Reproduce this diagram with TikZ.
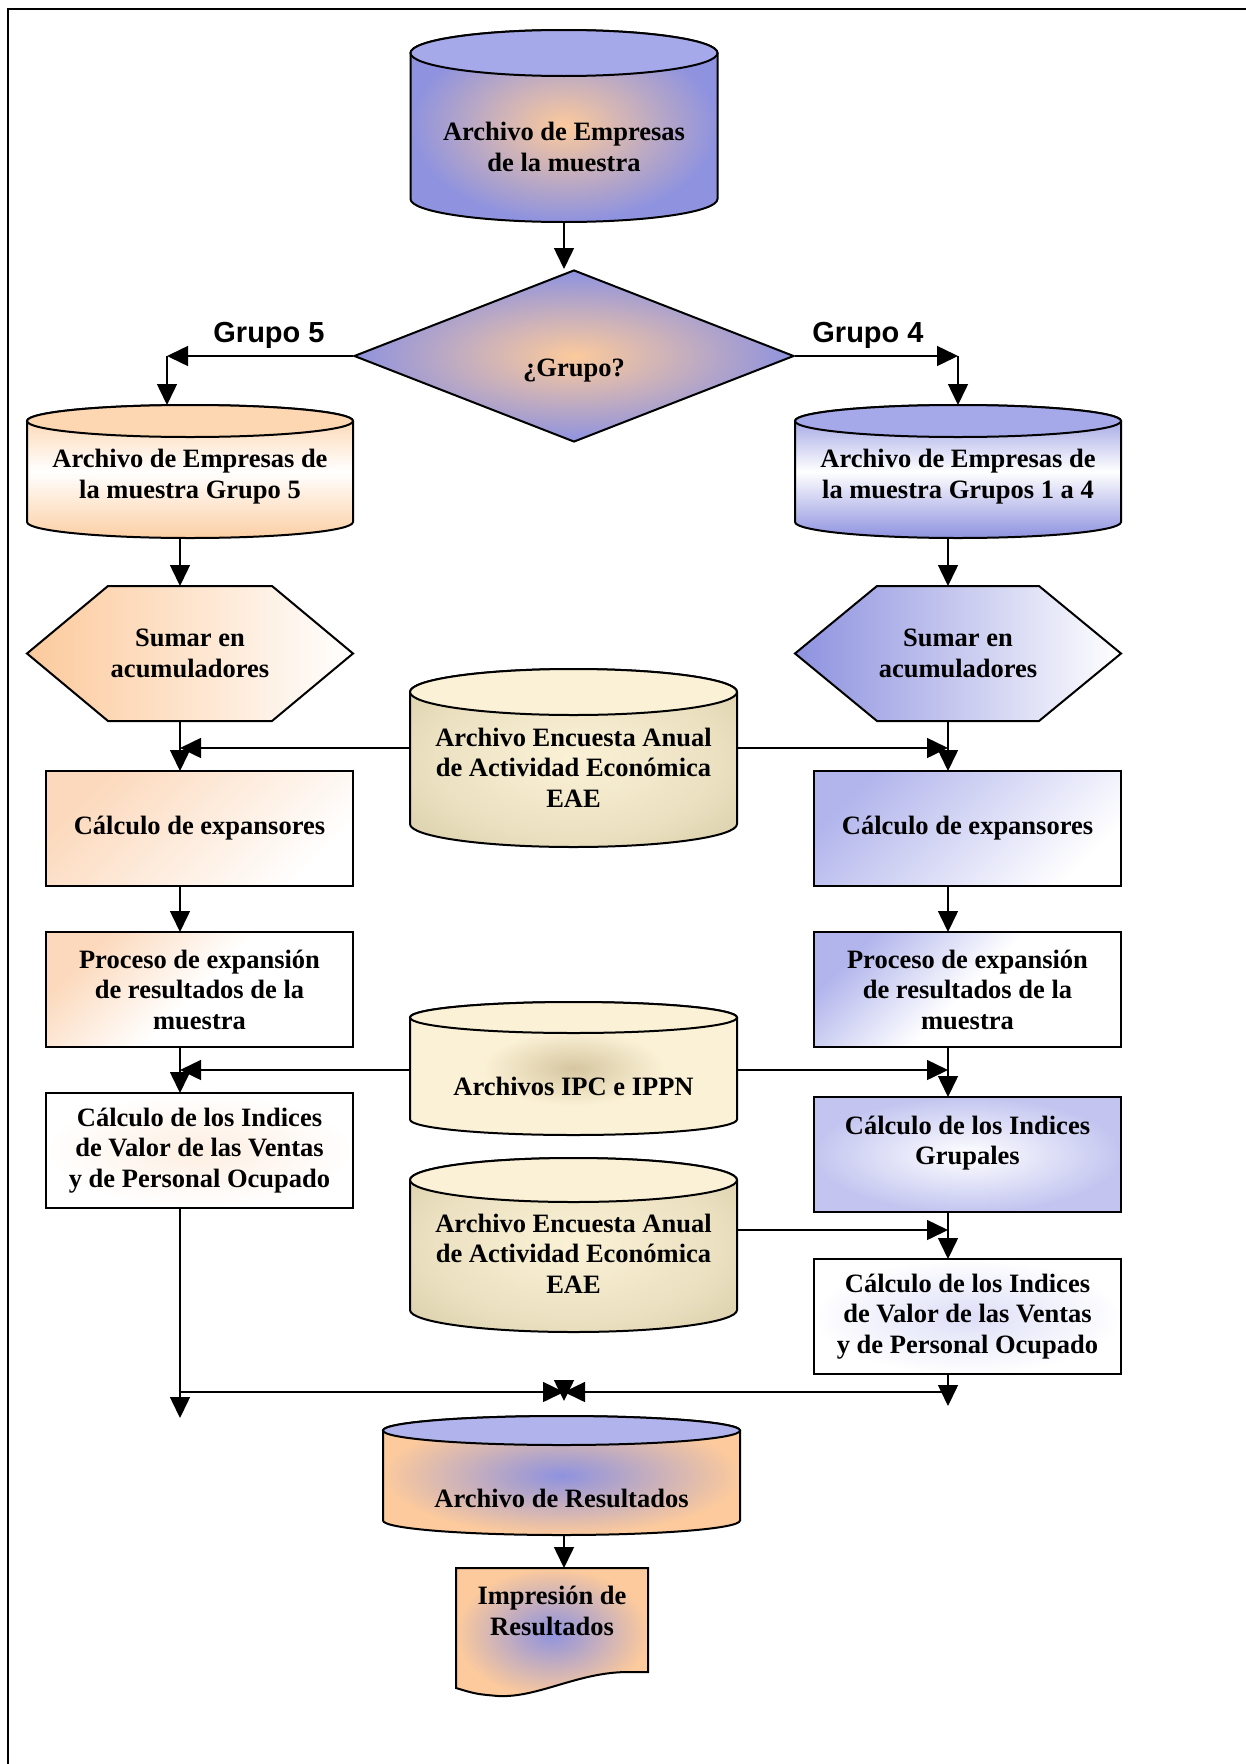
\documentclass[tikz,border=0pt]{standalone}
\usepackage{fontspec}
\setmainfont{Liberation Serif}
\newfontfamily\grpfont{Liberation Sans}
\usetikzlibrary{shapes.geometric,arrows.meta,backgrounds}

\definecolor{cylblue}{HTML}{8E92DF}
\definecolor{cyltop}{HTML}{A6A9E9}
\definecolor{orng}{HTML}{FCCA9C}
\definecolor{g5org}{HTML}{FCCFA4}
\definecolor{g5top}{HTML}{FDD7B2}
\definecolor{restop}{HTML}{B1B4EC}
\definecolor{boxpeach}{HTML}{FCD9BC}
\definecolor{boxblue}{HTML}{B2B5EC}
\definecolor{grplav}{HTML}{C3C5F0}
\definecolor{eaetan}{HTML}{C6BA8F}
\definecolor{eaecream}{HTML}{FBF1D6}
\definecolor{ipcspot}{HTML}{D6C6A0}
\colorlet{eaemid}{eaecream!70!eaetan}

\pgfdeclareradialshading{eaeglow}{\pgfpointorigin}{color(0bp)=(eaecream); color(22bp)=(eaemid); color(50bp)=(eaetan)}
\pgfdeclareradialshading{ipcglow}{\pgfpointorigin}{color(0bp)=(ipcspot); color(14bp)=(eaecream); color(50bp)=(eaecream)}

\tikzset{
  shape line/.style={draw=black, line width=2},
  box/.style={rectangle, shape line, minimum width=307, minimum height=115, align=center, outer sep=0},
  drumtxt/.style={rectangle, align=center, outer sep=0, inner sep=0},
  grplabel/.style={font=\grpfont\bfseries\fontsize{29}{34}\selectfont, inner sep=0},
  arr/.style={line width=1.5, -{Triangle[length=21pt,width=20pt]}},
}

% cylinder drawn round a text node: name, x radius, y radius, reach up, reach down, body shading, top fill
\newcommand\drum[7]{%
  \begin{scope}[on background layer]
    \path[shape line, #6] ([xshift=-#2, yshift=#4-#3]#1.center) -- ([xshift=-#2, yshift=#3-#5]#1.center)
      arc[start angle=180, end angle=360, x radius=#2pt, y radius=#3pt]
      -- ([xshift=#2, yshift=#4-#3]#1.center)
      arc[start angle=0, end angle=180, x radius=#2pt, y radius=#3pt] -- cycle;
    \path[shape line, fill=#7] ([yshift=#4-#3]#1.center) ellipse [x radius=#2pt, y radius=#3pt];
  \end{scope}
  \coordinate (#1 top) at ([yshift=#4]#1.center);
  \coordinate (#1 bottom) at ([yshift=-#5]#1.center);
}

% hexagon drawn round a node: name, corner cut, shading
\newcommand\hexa[3]{%
  \begin{scope}[on background layer]
    \path[shape line, #3] (#1.west) -- ([xshift=#2]#1.north west) -- ([xshift=-#2]#1.north east)
      -- (#1.east) -- ([xshift=-#2]#1.south east) -- ([xshift=#2]#1.south west) -- cycle;
  \end{scope}
}

\begin{document}
\begin{tikzpicture}[x=1pt, y=-1pt, font=\bfseries\fontsize{26.5}{30.5}\selectfont]
	\useasboundingbox (0,0) rectangle (1246,1764);
	\draw[line width=2] (7.5,1764) -- (7.5,8.5) -- (1246,8.5);

	% top of the chart
	\node[drumtxt, minimum width=307] (arq) at (564,147) {Archivo de Empresas\\de la muestra};
	\drum{arq}{153.5}{23}{117}{75}{inner color=orng, outer color=cylblue}{cyltop}
	\node[diamond, shape line, minimum width=440, minimum height=172, inner sep=0, text height=40pt, text depth=0pt, inner color=orng, outer color=cylblue] (gr) at (574,356) {¿Grupo?};
	\node[grplabel, anchor=base] (lab5) at (269,342) {Grupo 5};
	\node[grplabel, anchor=base] (lab4) at (868,342) {Grupo 4};

	% grupo 5 side
	\node[drumtxt, minimum width=326] (g5) at (190,476.5) {Archivo de Empresas de\\la muestra Grupo 5};
	\drum{g5}{163}{16}{71.5}{61.5}{top color=g5org, bottom color=g5org, middle color=white}{g5top}
	\node[drumtxt, minimum width=326, minimum height=135] (s5) at (190,653.5) {Sumar en\\acumuladores};
	\hexa{s5}{81}{left color=orng, right color=white}
	\node[box, top color=boxpeach, bottom color=white, shading angle=45] (lce) at (199.5,828.5) {C\'alculo de expansores};
	\node[box, top color=boxpeach, bottom color=white, middle color=white, shading angle=45] (lpr) at (199.5,989.5) {Proceso de expansi\'on\\de resultados de la\\muestra};
	\node[box, inner color=boxpeach!45, outer color=white] (lind) at (199.5,1150.5) {C\'alculo de los Indices\\de Valor de las Ventas\\y de Personal Ocupado};

	% grupos 1 a 4 side
	\node[drumtxt, minimum width=326] (g14) at (958,476.5) {Archivo de Empresas de\\la muestra Grupos 1 a 4};
	\drum{g14}{163}{16}{71.5}{61.5}{top color=cylblue, bottom color=cylblue, middle color=white}{cyltop}
	\node[drumtxt, minimum width=326, minimum height=135] (s14) at (958,653.5) {Sumar en\\acumuladores};
	\hexa{s14}{82}{left color=cylblue, right color=white}
	\node[box, top color=boxblue, bottom color=white, shading angle=45] (rce) at (967.5,828.5) {C\'alculo de expansores};
	\node[box, top color=boxblue, bottom color=white, middle color=white, shading angle=45] (rpr) at (967.5,989.5) {Proceso de expansi\'on\\de resultados de la\\muestra};
	\node[box, inner color=white, outer color=grplav] (rgr) at (967.5,1154.5) {C\'alculo de los Indices\\Grupales\\[-2pt]\mbox{}};
	\node[box, inner color=boxblue!45, outer color=white] (rind) at (967.5,1316.5) {C\'alculo de los Indices\\de Valor de las Ventas\\y de Personal Ocupado};

	% files in the middle
	\node[drumtxt, minimum width=327] (eae1) at (573.5,767.5) {Archivo Encuesta Anual\\de Actividad Econ\'omica\\EAE};
	\drum{eae1}{163.5}{23}{98.5}{79.5}{shading=eaeglow}{eaecream}
	\node[drumtxt, minimum width=327] (ipc) at (573.5,1086) {Archivos IPC e IPPN};
	\drum{ipc}{163.5}{15.5}{84}{49}{shading=ipcglow}{eaecream}
	\node[drumtxt, minimum width=327] (eae2) at (573.5,1253.5) {Archivo Encuesta Anual\\de Actividad Econ\'omica\\EAE};
	\drum{eae2}{163.5}{22}{95.5}{78.5}{shading=eaeglow}{eaecream}

	% results
	\node[drumtxt, minimum width=357] (res) at (561.5,1498) {Archivo de Resultados};
	\drum{res}{178.5}{14.5}{82}{37}{inner color=cylblue, outer color=orng}{restop}
	\node[drumtxt, minimum width=192, minimum height=86] (doc) at (552,1611) {Impresi\'on de\\Resultados};
	\begin{scope}[on background layer]
	\path[shape line, inner color=cylblue, outer color=orng] (doc.north west) -- (doc.north east) -- ([yshift=-18]doc.south east)
		-- ([xshift=-20,yshift=-18]doc.south east) .. controls ([xshift=-70,yshift=-18]doc.south east) and ([xshift=-110,yshift=-44]doc.south east) .. ([xshift=-150,yshift=-42]doc.south east)
		.. controls ([xshift=-172,yshift=-40]doc.south east) .. ([yshift=-34]doc.south west) -- cycle;
	\end{scope}

	% connectors
	\coordinate (lc) at (180,0);
	\coordinate (rc) at (948,0);
	\coordinate (c5) at (167,356);
	\coordinate (c4) at (gr.east -| g14 top);
	\coordinate (h1) at (573,748);
	\coordinate (h2) at (573,1070);
	\coordinate (h3) at (573,1230);
	\coordinate (m) at (564,1392);
	\coordinate (lend) at (180,1418);
	\coordinate (rend) at (948,1406);

	\draw[arr] (arq bottom) -- (arq bottom |- gr.north);
	\draw[arr] (gr.west) -- (c5);
	\draw[arr] (c5) -- (c5 |- g5 top);
	\draw[arr] (gr.east) -- (c4);
	\draw[arr] (c4) -- (g14 top);

	\draw[arr] (g5 bottom -| lc) -- (s5.north -| lc);
	\draw[arr] (s5.south -| lc) -- (lce.north -| lc);
	\draw[arr] (lce.south -| lc) -- (lpr.north -| lc);
	\draw[arr] (lpr.south -| lc) -- (lind.north -| lc);
	\draw[arr] (lind.south -| lc) -- (lend);

	\draw[arr] (g14 bottom -| rc) -- (s14.north -| rc);
	\draw[arr] (s14.south -| rc) -- (rce.north -| rc);
	\draw[arr] (rce.south -| rc) -- (rpr.north -| rc);
	\draw[arr] (rpr.south -| rc) -- (rgr.north -| rc);
	\draw[arr] (rgr.south -| rc) -- (rind.north -| rc);
	\draw[arr] (rind.south -| rc) -- (rend);

	\draw[arr] (eae1.west |- h1) -- (lc |- h1);
	\draw[arr] (eae1.east |- h1) -- (rc |- h1);
	\draw[arr] (ipc.west |- h2) -- (lc |- h2);
	\draw[arr] (ipc.east |- h2) -- (rc |- h2);
	\draw[arr] (eae2.east |- h3) -- (rc |- h3);

	\draw[arr] (lc |- m) -- (m);
	\draw[arr] (rc |- m) -- (m);
	\draw[arr, shorten >=15] (m) -- (m |- res top);
	\draw[arr] (m |- res bottom) -- (m |- doc.north);
\end{tikzpicture}
\end{document}
